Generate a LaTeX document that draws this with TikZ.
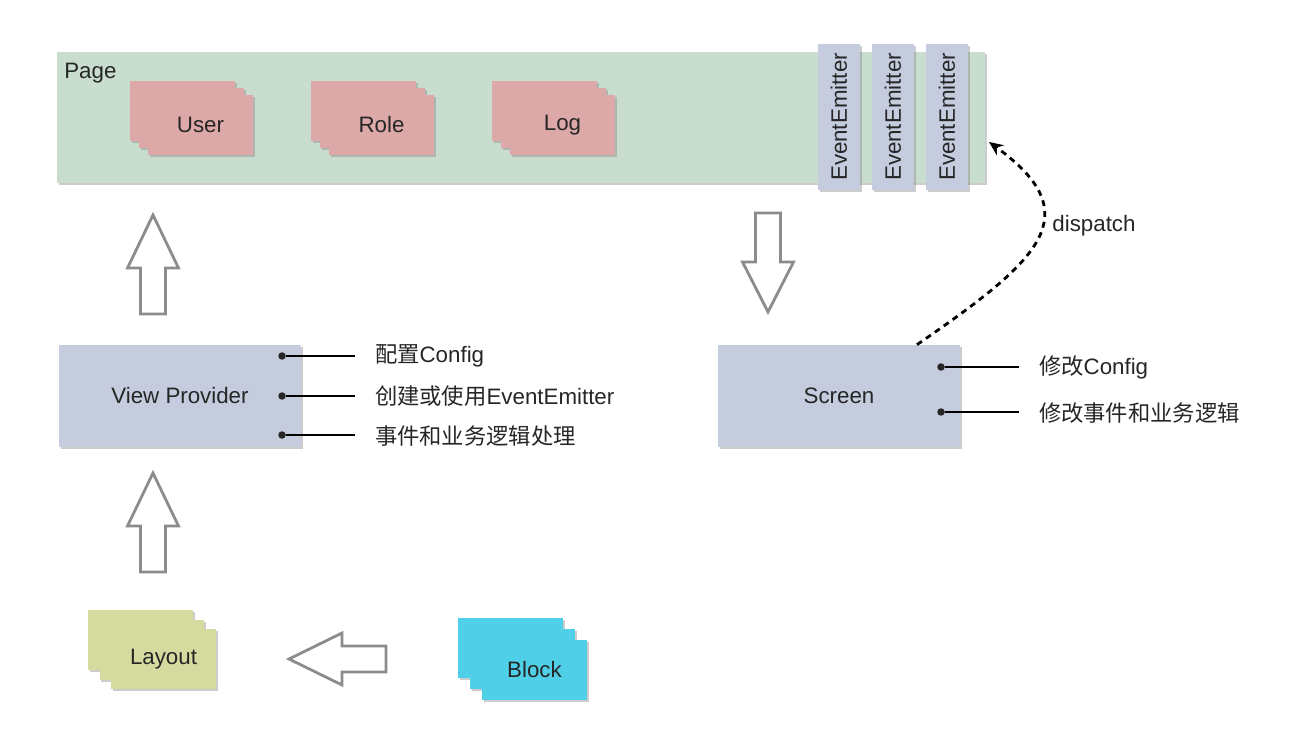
\documentclass[tikz,border=0pt]{standalone}
\usepackage{fontspec}
\setmainfont{Liberation Sans}
\newfontfamily\cjk{Noto Sans CJK SC}
\usepackage{tikz}
\usetikzlibrary{shadows,arrows.meta}

\definecolor{pagegreen}{RGB}{201,221,207}
\definecolor{cardpink}{RGB}{220,168,168}
\definecolor{viewblue}{RGB}{196,204,222}
\definecolor{layoutgreen}{RGB}{213,219,158}
\definecolor{blockcyan}{RGB}{80,208,232}
\definecolor{arrowgray}{RGB}{140,140,140}

\begin{document}
\begin{tikzpicture}[x=0.02cm, y=-0.02cm,
    every node/.style={font=\fontsize{12.7}{15}\selectfont, text=black!85},
    softshadow/.style={drop shadow={shadow xshift=0.9pt, shadow yshift=-1.4pt, opacity=0.4}},
    card/.style={softshadow, minimum width=2.1cm, minimum height=1.2cm, inner sep=0pt},
    panel/.style={softshadow, fill=viewblue, minimum width=4.84cm, minimum height=2.04cm, inner sep=0pt},
    emitter/.style={softshadow, fill=viewblue, rotate=90, minimum width=2.92cm, minimum height=0.84cm, inner sep=0pt},
    dot/.style={circle, fill=black!85, inner sep=0pt, minimum size=0.15cm},
    note/.style={anchor=west, inner sep=0pt, outer xsep=0.4cm},
    hollow/.style={draw=arrowgray, line width=1.6pt, line join=miter, fill=white}]
  \useasboundingbox (0,0) rectangle (1300,746);

  % page with its parts
  \node[softshadow, fill=pagegreen, minimum width=18.56cm, minimum height=2.62cm, inner sep=0pt] (page) at (521,117.5) {};
  \node[anchor=west, inner sep=0pt] (page-lbl) at (64,73) {Page};
  \node[card, fill=cardpink] (user-c) at (182.5,111) {};
  \node[card, fill=cardpink] (user-b) at (191.5,118) {};
  \node[card, fill=cardpink] (user) at (200.5,125) {User};
  \node[card, fill=cardpink] (role-c) at (363.5,111) {};
  \node[card, fill=cardpink] (role-b) at (372.5,118) {};
  \node[card, fill=cardpink] (role) at (381.5,125) {Role};
  \node[card, fill=cardpink] (log-c) at (544.5,111) {};
  \node[card, fill=cardpink] (log-b) at (553.5,118) {};
  \node[card, fill=cardpink] (log) at (562.5,125) {Log};
  \node[emitter] (ee1) at (839,117) {EventEmitter};
  \node[emitter] (ee2) at (893,117) {EventEmitter};
  \node[emitter] (ee3) at (947,117) {EventEmitter};

  % view provider
  \node[panel] (vp) at (180,396) {View Provider};
  \node[dot] (vp-d1) at (282,356) {};
  \node[dot] (vp-d2) at (282,396) {};
  \node[dot] (vp-d3) at (282,435) {};
  \node[note] (vp-l1) at (355,356) {{\cjk 配置}Config};
  \node[note] (vp-l2) at (355,396) {{\cjk 创建或使用}EventEmitter};
  \node[note] (vp-l3) at (355,436) {\cjk 事件和业务逻辑处理};
  \draw[line width=0.8pt] (vp-d1) -- (vp-d1 -| vp-l1.west);
  \draw[line width=0.8pt] (vp-d2) -- (vp-d2 -| vp-l2.west);
  \draw[line width=0.8pt] (vp-d3) -- (vp-d3 -| vp-l3.west);

  % screen
  \node[panel] (screen) at (839,396) {Screen};
  \node[dot] (scr-d1) at (941,367) {};
  \node[dot] (scr-d2) at (941,412) {};
  \node[note] (scr-l1) at (1019,367) {{\cjk 修改}Config};
  \node[note] (scr-l2) at (1019,413) {\cjk 修改事件和业务逻辑};
  \draw[line width=0.8pt] (scr-d1) -- (scr-d1 -| scr-l1.west);
  \draw[line width=0.8pt] (scr-d2) -- (scr-d2 -| scr-l2.west);

  % layout and block
  \node[card, fill=layoutgreen] (layout-c) at (140.5,640) {};
  \node[card, fill=layoutgreen] (layout-b) at (152,649.5) {};
  \node[card, fill=layoutgreen] (layout) at (163.5,659) {Layout};
  \node[card, fill=blockcyan] (block-c) at (510.5,648) {};
  \node[card, fill=blockcyan] (block-b) at (522.5,659) {};
  \node[card, fill=blockcyan] (block) at (534.5,670) {Block};

  % hollow arrows
  \draw[hollow] (153,215) -- (178.5,268) -- (165.5,268) -- (165.5,314) -- (140.5,314) -- (140.5,268) -- (127.5,268) -- cycle;
  \draw[hollow] (153,473) -- (178.5,526) -- (165.5,526) -- (165.5,572) -- (140.5,572) -- (140.5,526) -- (127.5,526) -- cycle;
  \draw[hollow] (768,312) -- (793.5,262) -- (780.5,262) -- (780.5,213) -- (755.5,213) -- (755.5,262) -- (742.5,262) -- cycle;
  \draw[hollow] (289,659) -- (342,633) -- (342,646) -- (386,646) -- (386,672) -- (342,672) -- (342,685) -- cycle;

  % dispatch
  \coordinate (scr-top) at ([xshift=1.56cm]screen.north);
  \coordinate (ee-in) at (989,142);
  \draw[line width=1.6pt, dash pattern=on 3.4pt off 2.8pt, -{Stealth[length=8pt,width=7pt]}]
    (scr-top) .. controls (1040,260) and (1090,215) .. (ee-in);
  \node (disp) at (1094,226) {dispatch};
\end{tikzpicture}
\end{document}
